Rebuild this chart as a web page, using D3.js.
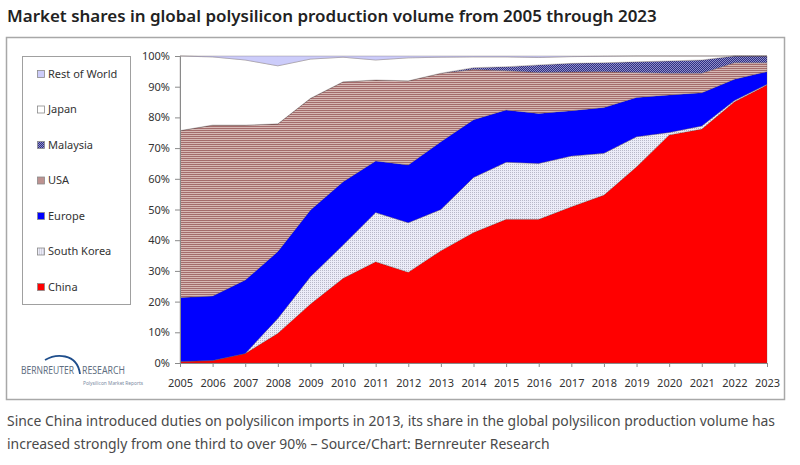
<!DOCTYPE html>
<html>
<head>
<meta charset="utf-8">
<script src="https://cdn.jsdelivr.net/npm/d3@7"></script>
<style>
  body { margin: 0; background: #fff; }
  svg { display: block; }
</style>
</head>
<body>
<div id="chart"></div>
<script>
// shares in percent
const years = [2005, 2006, 2007, 2008, 2009, 2010, 2011, 2012, 2013, 2014, 2015, 2016, 2017, 2018, 2019, 2020, 2021, 2022, 2023];
const china      = [0.5, 0.8, 3.1, 9.7, 19.2, 27.6, 33.0, 29.6, 36.6, 42.5, 46.8, 46.8, 50.9, 54.7, 63.9, 74.3, 76.2, 85.1, 90.6];
const southKorea = [0, 0, 0, 4.8, 8.9, 10.8, 16.0, 16.1, 13.4, 17.9, 18.6, 18.2, 16.5, 13.6, 9.8, 0.8, 1.0, 0.4, 0.2];
const europe     = [20.8, 21.0, 23.9, 21.8, 21.7, 20.6, 16.8, 18.8, 22.1, 18.8, 17.0, 16.3, 14.8, 14.9, 12.8, 12.2, 10.8, 6.9, 4.1];
const usa        = [54.4, 55.7, 50.5, 41.6, 36.4, 32.6, 26.4, 27.4, 22.3, 16.4, 12.8, 13.3, 12.6, 11.7, 8.1, 7.1, 6.4, 5.4, 2.9];
const malaysia   = [0, 0, 0, 0, 0, 0, 0, 0, 0, 0.6, 1.3, 2.5, 2.8, 2.9, 3.5, 4.0, 4.3, 2.2, 2.2];
const japan      = [24.3, 22.2, 21.2, 18.9, 12.8, 8.0, 6.5, 7.5, 5.2, 3.5, 3.2, 2.4, 2.2, 2.1, 1.9, 1.6, 1.3, 0, 0];
const restOfWorld = [0, 0.3, 1.3, 3.2, 1.0, 0.4, 1.3, 0.6, 0.4, 0.3, 0.3, 0.5, 0.2, 0.1, 0, 0, 0, 0, 0];

// stacking order bottom -> top
const series = [
  { key: 'China', values: china, fill: '#ff0000' },
  { key: 'South Korea', values: southKorea, fill: 'url(#pat-korea)' },
  { key: 'Europe', values: europe, fill: '#0000ff' },
  { key: 'USA', values: usa, fill: 'url(#pat-usa)' },
  { key: 'Malaysia', values: malaysia, fill: 'url(#pat-malaysia)' },
  { key: 'Japan', values: japan, fill: '#ffffff' },
  { key: 'Rest of World', values: restOfWorld, fill: '#ccccfa' }
];

const yTicks = [0, 0.1, 0.2, 0.3, 0.4, 0.5, 0.6, 0.7, 0.8, 0.9, 1];

const W = 800, H = 465;
const plot = { left: 180, right: 767, top: 56, bottom: 363 };

const table = years.map((yr, i) => {
  const row = { year: yr };
  series.forEach(s => { row[s.key] = s.values[i]; });
  return row;
});

const stack = d3.stack()
  .keys(series.map(s => s.key))
  .offset(d3.stackOffsetExpand);
const layers = stack(table);

const x = d3.scaleLinear().domain([years[0], years[years.length - 1]]).range([plot.left, plot.right]);
const y = d3.scaleLinear().domain([0, 1]).range([plot.bottom, plot.top]);

const svg = d3.select('#chart').append('svg')
  .attr('width', W).attr('height', H)
  .style('font-family', '"Noto Sans", sans-serif');

svg.append('rect').attr('width', W).attr('height', H).attr('fill', '#fff');

// patterns
const defs = svg.append('defs');

const pUsa = defs.append('pattern').attr('id', 'pat-usa')
  .attr('patternUnits', 'userSpaceOnUse').attr('width', 4).attr('height', 2);
pUsa.append('rect').attr('width', 4).attr('height', 2).attr('fill', '#d6b8b4');
pUsa.append('rect').attr('width', 4).attr('height', 1).attr('fill', '#a46c6c');

const pMal = defs.append('pattern').attr('id', 'pat-malaysia')
  .attr('patternUnits', 'userSpaceOnUse').attr('width', 2).attr('height', 2);
pMal.append('rect').attr('width', 2).attr('height', 2).attr('fill', '#2e2e84');
pMal.append('rect').attr('width', 1).attr('height', 1).attr('fill', '#9090c8');
pMal.append('rect').attr('x', 1).attr('y', 1).attr('width', 1).attr('height', 1).attr('fill', '#9090c8');

const pKor = defs.append('pattern').attr('id', 'pat-korea')
  .attr('patternUnits', 'userSpaceOnUse').attr('width', 2).attr('height', 2);
pKor.append('rect').attr('width', 2).attr('height', 2).attr('fill', '#ececf8');
pKor.append('rect').attr('width', 1).attr('height', 1).attr('fill', '#b8b8c8');

// outer frame
svg.append('rect')
  .attr('x', 6.5).attr('y', 37.5).attr('width', 778).attr('height', 362)
  .attr('fill', 'none').attr('stroke', '#a8a8a8').attr('stroke-width', 1.5);

// areas
const area = d3.area()
  .x(d => x(d.data.year))
  .y0(d => y(d[0]))
  .y1(d => y(d[1]));

svg.append('g').selectAll('path')
  .data(layers)
  .join('path')
  .attr('d', area)
  .attr('fill', (d, i) => series[i].fill)
  .attr('stroke', '#5a4a4a')
  .attr('stroke-width', 0.4)
  .attr('stroke-opacity', 0.7);

// axes
const yAxis = svg.append('g')
  .attr('transform', `translate(${plot.left},0)`)
  .call(d3.axisLeft(y).tickValues(yTicks).tickFormat(d3.format('.0%')).tickSize(5).tickPadding(5));

const xAxis = svg.append('g')
  .attr('transform', `translate(0,${plot.bottom})`)
  .call(d3.axisBottom(x).tickValues(years).tickFormat(d3.format('d')).tickSize(4).tickPadding(12).tickSizeOuter(0));

[yAxis, xAxis].forEach(g => {
  g.select('.domain').attr('stroke', '#8a8a8a');
  g.selectAll('.tick line').attr('stroke', '#8a8a8a');
  g.selectAll('.tick text').attr('fill', '#333').style('font-size', '11px').style('font-family', '"Noto Sans", sans-serif');
});

// legend, top entry = top of stack
const legend = svg.append('g');
legend.append('rect')
  .attr('x', 22.5).attr('y', 56.5).attr('width', 108).attr('height', 248)
  .attr('fill', '#fff').attr('stroke', '#a0a0a0');

const legItems = series.slice().reverse();
const legRow = legend.selectAll('g.item')
  .data(legItems)
  .join('g')
  .attr('class', 'item')
  .attr('transform', (d, i) => `translate(37,${74 + i * 35.5})`);

legRow.append('rect')
  .attr('x', 0.5).attr('y', -3.5).attr('width', 7).attr('height', 7)
  .attr('fill', d => d.fill)
  .attr('stroke', '#8a8a8a').attr('stroke-width', 0.8);

legRow.append('text')
  .attr('x', 11).attr('y', 0).attr('dy', '0.35em')
  .attr('fill', '#333').style('font-size', '11px')
  .text(d => d.key);

// logo
const logo = svg.append('g');
logo.append('path')
  .attr('d', 'M45,360 C55,354 77,352 80,374')
  .attr('fill', 'none').attr('stroke', '#1f4e8c').attr('stroke-width', 1.8);
logo.append('text')
  .attr('x', 21).attr('y', 374).attr('textLength', 53).attr('lengthAdjust', 'spacingAndGlyphs')
  .attr('fill', '#5f6f82').style('font-size', '10.5px')
  .text('BERNREUTER');
logo.append('text')
  .attr('x', 82).attr('y', 374).attr('textLength', 43).attr('lengthAdjust', 'spacingAndGlyphs')
  .attr('fill', '#5f6f82').style('font-size', '10.5px')
  .text('RESEARCH');
logo.append('text')
  .attr('x', 83).attr('y', 384.5).attr('textLength', 60).attr('lengthAdjust', 'spacingAndGlyphs')
  .attr('fill', '#7a8aa2').style('font-size', '5px')
  .text('Polysilicon Market Reports');

// title and caption, sized to the widths seen in the picture
function fitText(sel, target) {
  const len = sel.node().getComputedTextLength();
  const fs = parseFloat(sel.style('font-size'));
  sel.style('font-size', (fs * target / len) + 'px');
}

const title = svg.append('text')
  .attr('x', 7).attr('y', 22)
  .attr('fill', '#222').style('font-size', '17px').style('font-weight', 600)
  .text('Market shares in global polysilicon production volume from 2005 through 2023');
fitText(title, 650);

const cap1 = svg.append('text')
  .attr('x', 7).attr('y', 426)
  .attr('fill', '#4a4a4a').style('font-size', '14px')
  .text('Since China introduced duties on polysilicon imports in 2013, its share in the global polysilicon production volume has');
fitText(cap1, 769);

svg.append('text')
  .attr('x', 7).attr('y', 449)
  .attr('fill', '#4a4a4a').style('font-size', cap1.style('font-size'))
  .text('increased strongly from one third to over 90% \u2013 Source/Chart: Bernreuter Research');
</script>
</body>
</html>
